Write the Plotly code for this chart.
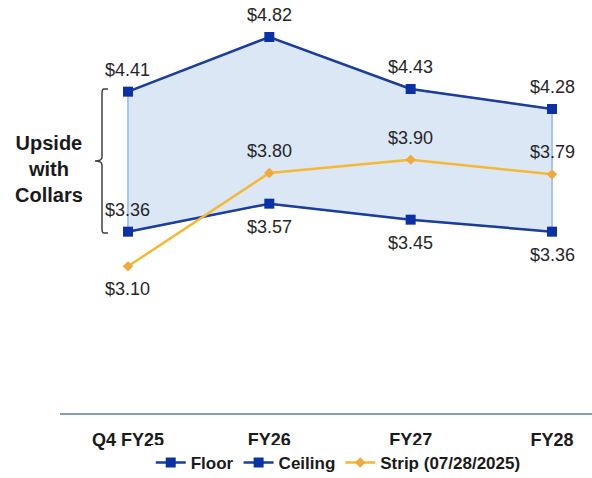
import plotly.graph_objects as go

categories = ["Q4 FY25", "FY26", "FY27", "FY28"]
floor_vals = [3.36, 3.57, 3.45, 3.36]
ceiling_vals = [4.41, 4.82, 4.43, 4.28]
strip_vals = [3.10, 3.80, 3.90, 3.79]

floor_label_pos = ["above", "below", "below", "below"]
ceiling_label_pos = ["above", "above", "above", "above"]
strip_label_pos = ["below", "above", "above", "above"]

xs = list(range(len(categories)))
BLUE = "#1b3d9e"
MARK = "#0a32a6"
GOLD = "#f4b932"
FONT = "Liberation Sans, Arial, sans-serif"

fig = go.Figure()

# shaded band between floor and ceiling
fig.add_trace(go.Scatter(
    x=xs + xs[::-1] + [xs[0]],
    y=ceiling_vals + floor_vals[::-1] + [ceiling_vals[0]],
    fill="toself", fillcolor="#dce7f6",
    line=dict(color="#a9c5ea", width=2),
    mode="lines", hoverinfo="skip", showlegend=False,
))

fig.add_trace(go.Scatter(
    x=xs, y=floor_vals, name="Floor", mode="lines+markers",
    line=dict(color=BLUE, width=2.5),
    marker=dict(symbol="square", size=10, color=MARK),
))
fig.add_trace(go.Scatter(
    x=xs, y=ceiling_vals, name="Ceiling", mode="lines+markers",
    line=dict(color=BLUE, width=2.5),
    marker=dict(symbol="square", size=10, color=MARK),
))
fig.add_trace(go.Scatter(
    x=xs, y=strip_vals, name="Strip (07/28/2025)", mode="lines+markers",
    line=dict(color=GOLD, width=2.5),
    marker=dict(symbol="diamond", size=8, color="#f2a93b"),
))

annotations = []
for vals, poss in [(floor_vals, floor_label_pos), (ceiling_vals, ceiling_label_pos),
                   (strip_vals, strip_label_pos)]:
    for x, v, p in zip(xs, vals, poss):
        annotations.append(dict(
            x=x, y=v, xref="x", yref="y", text=f"${v:.2f}", showarrow=False,
            yshift=22 if p == "above" else -23,
            font=dict(family=FONT, size=18, color="#262626"),
        ))

annotations.append(dict(
    x=-0.021, y=3.83, xref="paper", yref="y",
    text="<b>Upside<br>with<br>Collars</b>", showarrow=False,
    xanchor="center", yanchor="middle",
    font=dict(family=FONT, size=20, color="#1a1a1a"),
))

# bracket
def px(p):
    return (p - 60) / 532.0

top, bot, mid = 4.43, 3.35, 3.89
path = (f"M {px(108)},{top} L {px(104)},{top} Q {px(102)},{top} {px(102)},{top-0.03} "
        f"L {px(102)},{mid+0.03} Q {px(102)},{mid} {px(95)},{mid} "
        f"Q {px(102)},{mid} {px(102)},{mid-0.03} "
        f"L {px(102)},{bot+0.03} Q {px(102)},{bot} {px(104)},{bot} L {px(108)},{bot}")
shapes = [dict(type="path", path=path, xref="paper", yref="y",
               line=dict(color="#404040", width=1.5))]

fig.update_layout(
    width=592, height=478,
    margin=dict(l=60, r=0, t=13, b=65, autoexpand=False),
    paper_bgcolor="white", plot_bgcolor="white",
    font=dict(family=FONT, size=14, color="#1a1a1a"),
    annotations=annotations, shapes=shapes,
    showlegend=True,
    legend=dict(orientation="h", x=0.523, xanchor="center", y=-0.125, yanchor="middle",
                font=dict(family=FONT, size=17, color="#1a1a1a"),
                itemwidth=30, tracegroupgap=0,
                traceorder="normal"),
    xaxis=dict(
        tickmode="array", tickvals=xs,
        ticktext=[f"<b>{c}</b>" for c in categories],
        range=[-0.481, 3.283], showgrid=False, zeroline=False,
        showline=True, linecolor="#8a9bb4", linewidth=1.5,
        ticks="", ticklabelstandoff=10, automargin=False,
        tickfont=dict(family=FONT, size=18, color="#1a1a1a"),
    ),
    yaxis=dict(range=[2.0, 5.0], visible=False, showgrid=False, zeroline=False),
)

# bold legend entries
for t in fig.data:
    if t.name:
        t.name = f"<b>{t.name}</b>"

fig.write_html("out.html", config={"displayModeBar": False},
               post_script="document.body.style.margin='0';")
